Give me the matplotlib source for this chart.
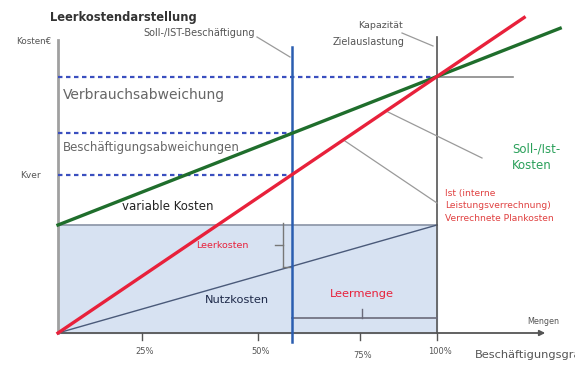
#!/usr/bin/env python
import numpy as np
import matplotlib
matplotlib.use('Agg')
import matplotlib.pyplot as plt

# Leerkostendarstellung (x: Beschaeftigungsgrad in %, y: Kosten)
fixkosten = 40.0
sollkosten_kap = 95.0          # Soll-/Ist-Kosten bei 100 %
ist_beschaeftigung = 61.7      # Soll-/Ist-Beschaeftigung
kapazitaet = 100.0
red_end = 123.0                # Ende verrechnete Plankosten
green_end = 132.5              # Ende Soll-Kosten
tick_pos = [22.2, 52.8, 79.7, 100.0]
tick_labels = ['25%', '50%', '75%', '100%']

# pixel -> data layout helper (575x366 canvas, origin at px 58/333)
sx, sy = 3.79, 2.7
def P(px, py):
    return (px - 58) / sx, (333 - py) / sy

fig = plt.figure(figsize=(5.75, 3.66), dpi=100)
ax = fig.add_axes([0, 0, 1, 1])
ax.set_xlim(-58 / sx, (575 - 58) / sx)
ax.set_ylim(-(366 - 333) / sy, 333 / sy)
ax.axis('off')

# Fixkostenblock
ax.fill_between([0, kapazitaet], 0, fixkosten, color='#d7e2f2', zorder=1)
ax.plot([0, kapazitaet], [fixkosten, fixkosten], color='#8a94a6', lw=1.2, zorder=2)
# Nutzkosten line
ax.plot([0, kapazitaet], [0, fixkosten], color='#4a5a7a', lw=1.0, zorder=3)

# horizontal lines
g_ist = fixkosten + (sollkosten_kap - fixkosten) * ist_beschaeftigung / 100
r_ist = sollkosten_kap * ist_beschaeftigung / 100
x_hline_end = P(513, 0)[0]
ax.plot([kapazitaet, x_hline_end], [sollkosten_kap] * 2, color='#888888', lw=1.2, zorder=2)
dash = dict(color='#3a4fbf', lw=1.6, ls=(0, (2, 1.6)), zorder=4)
ax.plot([0, kapazitaet], [sollkosten_kap] * 2, **dash)
ax.plot([0, ist_beschaeftigung], [g_ist] * 2, **dash)
ax.plot([0, ist_beschaeftigung], [r_ist] * 2, **dash)

# vertical lines
ax.plot([kapazitaet] * 2, [0, P(0, 37)[1]], color='#555555', lw=1.2, zorder=3)
ax.plot([ist_beschaeftigung] * 2, [P(0, 342)[1], P(0, 47)[1]], color='#2a5db0', lw=1.8, zorder=5)

# cost lines
xg = np.array([0, green_end])
ax.plot(xg, fixkosten + (sollkosten_kap - fixkosten) * xg / 100, color='#1f6e2c', lw=2.4, zorder=6)
xr = np.array([0, red_end])
ax.plot(xr, sollkosten_kap * xr / 100, color='#e8213b', lw=2.4, zorder=7)

# axes
ax.plot([0, 0], [0, P(0, 40)[1]], color='#a0a0a0', lw=2.0, zorder=3)
ax.annotate('', xy=P(548, 333), xytext=(0, 0),
            arrowprops=dict(arrowstyle='-|>', color='#555555', lw=1.3, mutation_scale=8), zorder=3)
for tp, tl in zip(tick_pos, tick_labels):
    ax.plot([tp, tp], [0, P(0, 340)[1]], color='#555555', lw=1.0)
    ax.text(tp + P(61, 0)[0], P(0, 352 if tl != '75%' else 355)[1], tl,
            ha='center', va='center', fontsize=6, color='#555555')

# brackets
bx = P(283, 0)[0]
ax.plot([bx, bx], [P(0, 223)[1], P(0, 267)[1]], color='#777777', lw=1.0, zorder=4)
ax.plot([bx, ist_beschaeftigung], [P(0, 267)[1]] * 2, color='#777777', lw=1.0, zorder=4)
ax.plot([P(275, 0)[0], bx], [P(0, 245)[1]] * 2, color='#777777', lw=1.0, zorder=4)
ax.plot([ist_beschaeftigung, kapazitaet], [P(0, 318)[1]] * 2, color='#6a6a7a', lw=1.2, zorder=4)
ax.plot([P(362, 0)[0]] * 2, [P(0, 318)[1], P(0, 309)[1]], color='#6a6a7a', lw=1.0, zorder=4)

# leader lines
for a, b in [((257, 37), (290, 57)), ((402, 33), (433, 46)),
             ((388, 112), (482, 158)), ((345, 141), (437, 203))]:
    ax.plot(*zip(P(*a), P(*b)), color='#9a9a9a', lw=0.9, zorder=4)

# texts
ax.text(*P(50, 18), 'Leerkostendarstellung', fontsize=8.3, fontweight='bold', color='#333333', va='center')
ax.text(*P(255, 33), 'Soll-/IST-Beschäftigung', fontsize=7, color='#555555', va='center', ha='right')
ax.text(*P(403, 25), 'Kapazität', fontsize=6.8, color='#555555', va='center', ha='right')
ax.text(*P(405, 42), 'Zielauslastung', fontsize=7, color='#555555', va='center', ha='right')
ax.text(*P(16, 42), 'Kosten€', fontsize=6.3, color='#555555', va='center')
ax.text(*P(20, 175), 'Kver', fontsize=6.5, color='#555555', va='center')
ax.text(*P(63, 95), 'Verbrauchsabweichung', fontsize=10, color='#666666', va='center')
ax.text(*P(63, 148), 'Beschäftigungsabweichungen', fontsize=8.5, color='#666666', va='center')
ax.text(*P(122, 207), 'variable Kosten', fontsize=8.5, color='#222222', va='center')
ax.text(*P(196, 246), 'Leerkosten', fontsize=6.8, color='#e8213b', va='center')
ax.text(*P(205, 300), 'Nutzkosten', fontsize=8.2, color='#1e2a4a', va='center')
ax.text(*P(330, 294), 'Leermenge', fontsize=8.2, color='#e8213b', va='center')
ax.text(*P(512, 157), 'Soll-/Ist-\nKosten', fontsize=8.5, color='#2aa05a', va='center', linespacing=1.35)
ax.text(*P(445, 206), 'Ist (interne\nLeistungsverrechnung)\nVerrechnete Plankosten',
        fontsize=6.6, color='#e04040', va='center', linespacing=1.45)
ax.text(*P(527, 322), 'Mengen', fontsize=5.8, color='#555555', va='center')
ax.text(*P(475, 355), 'Beschäftigungsgrad', fontsize=8.2, color='#555555', va='center')

fig.savefig('out.png', dpi=100)
